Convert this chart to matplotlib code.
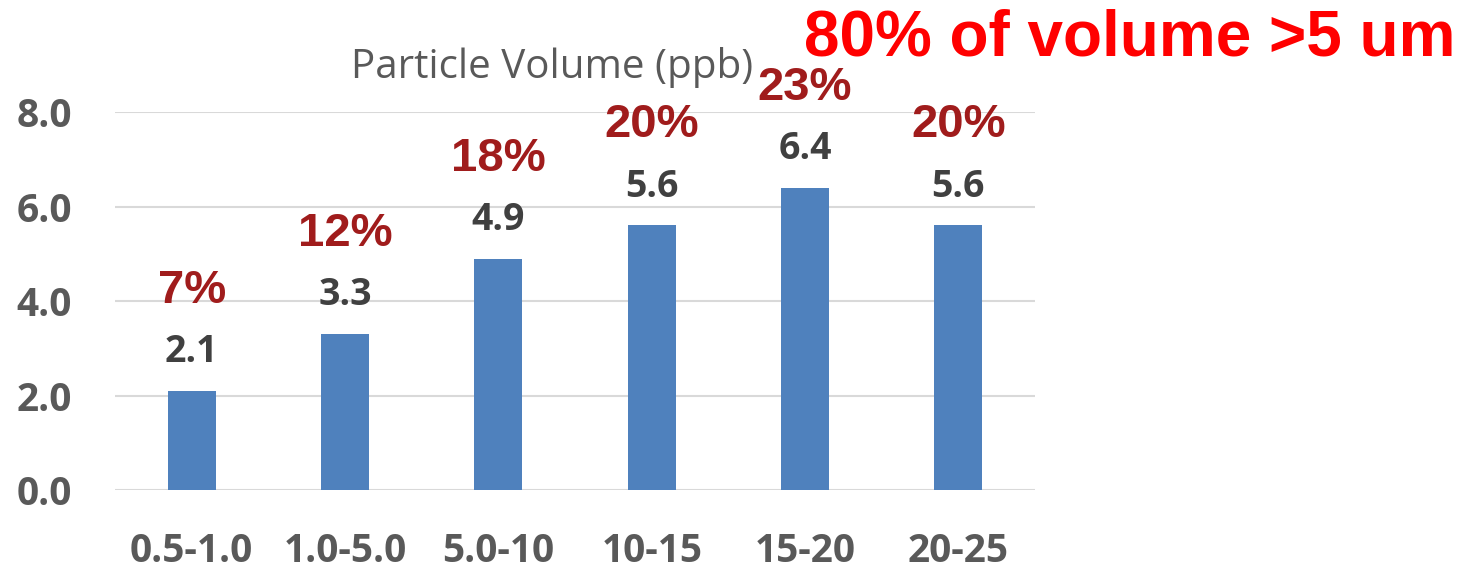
import matplotlib
matplotlib.use("Agg")
import matplotlib.pyplot as plt

# particle size bins (um) and volume per bin
sizes = ["0.5-1.0", "1.0-5.0", "5.0-10", "10-15", "15-20", "20-25"]
volume_ppb = [2.1, 3.3, 4.9, 5.6, 6.4, 5.6]
share_pct = [7, 12, 18, 20, 23, 20]
yticks = [0.0, 2.0, 4.0, 6.0, 8.0]

fig = plt.figure(figsize=(14.73, 5.69), dpi=100)
ax = fig.add_axes([0.0781, 0.1388, 0.6246, 0.6643])

x = range(len(sizes))
bars = ax.bar(x, volume_ppb, width=0.313, color="#4F81BD", zorder=3)

ax.set_xlim(-0.5, len(sizes) - 0.5)
ax.set_ylim(0, 8)
ax.set_yticks(yticks)
ax.set_yticklabels(["%.1f" % t for t in yticks])
ax.set_xticks(list(x))
ax.set_xticklabels(sizes)

ax.grid(axis="y", color="#D9D9D9", linewidth=1.5, zorder=0)
for s in ax.spines.values():
    s.set_visible(False)
ax.tick_params(length=0)
ax.tick_params(axis="y", pad=31)
ax.tick_params(axis="x", pad=30)
for lab in ax.get_xticklabels() + ax.get_yticklabels():
    lab.set_fontfamily("Open Sans")
    lab.set_fontweight("bold")
    lab.set_fontsize(28)
    lab.set_color("#595959")

for xi, v, p in zip(x, volume_ppb, share_pct):
    ax.annotate("%.1f" % v, (xi, v), xytext=(0, 28), textcoords="offset points",
                ha="center", va="center", fontsize=27, fontweight="bold",
                family="Open Sans", color="#404040")
    ax.annotate("%d%%" % p, (xi, v), xytext=(0, 72), textcoords="offset points",
                ha="center", va="center", fontsize=34, fontweight="bold",
                family="Liberation Sans", color="#A01C1C")

fig.text(552 / 1473, 1 - 67 / 569, "Particle Volume (ppb)", ha="center", va="center",
         fontsize=29, family="Open Sans", color="#595959")
fig.text(1455 / 1473, 1 - 38 / 569, "80% of volume >5 um", ha="right", va="center",
         fontsize=46, fontweight="bold", family="Liberation Sans", color="#FF0000")

fig.savefig("out.png", dpi=100)
